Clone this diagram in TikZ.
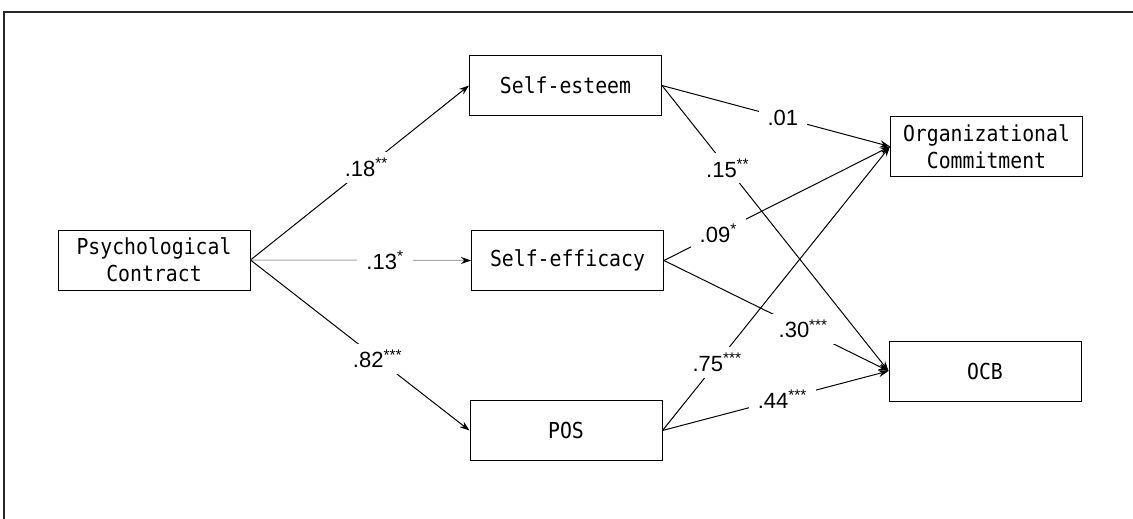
\documentclass[tikz,border=0pt]{standalone}
\usepackage{fontspec}
\setmainfont{Liberation Sans}
\newfontfamily\boxfont[FakeStretch=0.9]{DejaVu Sans Mono}
\usetikzlibrary{arrows.meta}
\tikzstyle{var} = [rectangle, minimum width=192pt, minimum height=60pt, text centered, align=center, draw=black, line width=1pt, font=\boxfont\fontsize{22}{27}\selectfont]
\tikzstyle{arrow} = [line width=1pt, -{Stealth[length=10pt, width=7pt]}]
\tikzstyle{coef} = [fill=white, inner xsep=9pt, inner ysep=6pt, font=\fontsize{22}{24}\selectfont]

\begin{document}
\begin{tikzpicture}[x=1pt, y=-1pt]
      \useasboundingbox (0,0) rectangle (1133,519);
      \draw [line width=1.5pt, black!85] (1133,12) -- (4,12) -- (4,519);

      \node (pc)     [var] at (154,260)     {Psychological\\Contract};
      \node (esteem) [var] at (565.5,85.5)  {Self-esteem};
      \node (effic)  [var] at (567.5,260.5) {Self-efficacy};
      \node (pos)    [var] at (566,430.5)   {POS};
      \node (oc)     [var] at (986.5,146.5) {Organizational\\Commitment};
      \node (ocb)    [var] at (985,371)     {OCB};

      \draw [arrow] (pc.east) -- node[coef, pos=0.53] {.18\textsuperscript{**}} (esteem.west);
      \draw [arrow, gray!70, -{Stealth[length=10pt, width=7pt, black]}] (pc.east) -- node[coef, pos=0.61, text=black] {.13\textsuperscript{*}} (effic.west);
      \draw [arrow] (pc.east) -- node[coef, pos=0.58] {.82\textsuperscript{***}} (pos.west);

      \draw [arrow] (esteem.east) -- node[coef, pos=0.53] {.01} (oc.west);
      \draw [arrow] (esteem.east) -- node[coef, pos=0.29] {.15\textsuperscript{**}} (ocb.west);
      \draw [arrow] (effic.east)  -- node[coef, pos=0.24] {.09\textsuperscript{*}} (oc.west);
      \draw [arrow] (effic.east)  -- node[coef, pos=0.62] {.30\textsuperscript{***}} (ocb.west);
      \draw [arrow] (pos.east)    -- node[coef, pos=0.24] {.75\textsuperscript{***}} (oc.west);
      \draw [arrow] (pos.east)    -- node[coef, pos=0.53] {.44\textsuperscript{***}} (ocb.west);
    \end{tikzpicture}
\end{document}
